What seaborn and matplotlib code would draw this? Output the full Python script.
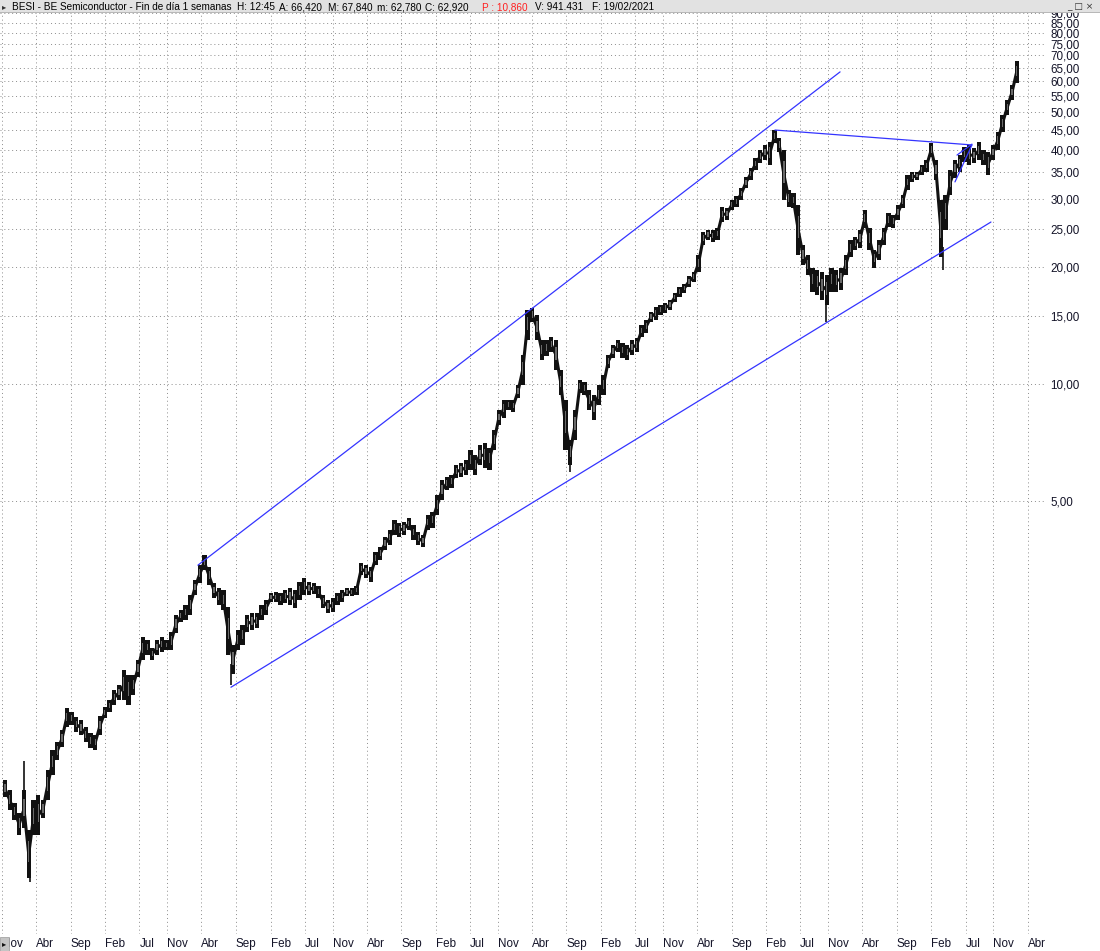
import numpy as np
import pandas as pd
import matplotlib
matplotlib.use("Agg")
import matplotlib.pyplot as plt
import matplotlib.dates as mdates
import matplotlib.ticker as mticker
from matplotlib.patches import Rectangle
import seaborn as sns

sns.set_theme(style="white")
plt.rcParams['font.family'] = ['Liberation Sans', 'DejaVu Sans']

# ---------------- data (3-week buckets) ----------------
start_date = "2008-11-14"
step_days = 21

high = [
    0.957, 0.903, 0.836, 0.787, 0.903, 0.712, 0.851, 0.876, 0.851, 1.016,
    1.144, 1.199, 1.288, 1.467, 1.433, 1.391, 1.366, 1.311, 1.265, 1.250,
    1.399, 1.476, 1.538, 1.632, 1.681, 1.837, 1.784, 1.784, 1.949, 2.233,
    2.194, 2.093, 2.194, 2.233, 2.194, 2.300, 2.545, 2.621, 2.700, 2.865,
    3.131, 3.422, 3.631, 3.382, 3.076, 2.986, 2.951, 2.668, 2.130, 2.328,
    2.398, 2.545, 2.575, 2.575, 2.700, 2.781, 2.899, 2.916, 2.899, 2.951,
    2.986, 2.951, 3.094, 3.168, 3.094, 3.076, 3.022, 2.865, 2.781, 2.814,
    2.899, 2.951, 2.986, 2.986, 3.022, 3.463, 3.422, 3.382, 3.696, 3.808,
    4.039, 4.211, 4.467, 4.389, 4.415, 4.521, 4.337, 4.161, 4.088, 4.602,
    4.684, 5.181, 5.662, 5.764, 5.833, 6.189, 6.263, 6.374, 6.764, 6.566,
    6.967, 7.050, 6.845, 7.615, 8.573, 9.095, 9.095, 9.095, 9.942, 11.88,
    15.51, 15.70, 15.06, 12.98, 12.98, 13.21, 12.98, 10.87, 9.095, 7.176,
    8.573, 10.24, 10.12, 9.652, 9.370, 9.942, 10.55, 11.88, 12.60, 12.98,
    12.75, 12.60, 12.98, 13.13, 14.19, 14.61, 15.33, 15.79, 15.98, 16.17,
    16.45, 17.15, 17.77, 18.09, 18.97, 19.42, 21.48, 24.62, 24.91, 24.91,
    25.20, 28.54, 28.37, 29.75, 30.47, 31.95, 34.09, 35.97, 38.15, 40.01,
    41.21, 41.94, 45.04, 42.95, 40.01, 31.57, 31.02, 28.88, 22.79, 21.48,
    19.88, 19.65, 19.42, 19.08, 19.88, 19.65, 19.88, 21.48, 23.47, 23.89,
    24.91, 28.04, 25.20, 22.13, 23.47, 25.20, 27.55, 27.22, 28.88, 30.65,
    34.50, 35.12, 35.12, 36.61, 37.70, 41.70, 37.70, 29.75, 30.65, 35.54,
    37.70, 38.84, 40.72, 41.21, 40.49, 41.94, 40.01, 39.54, 41.21, 44.50,
    49.22, 53.79, 58.80, 67.84,
]

low = [
    0.866, 0.802, 0.755, 0.691, 0.720, 0.536, 0.691, 0.691, 0.764, 0.851,
    0.986, 1.078, 1.164, 1.311, 1.326, 1.273, 1.250, 1.199, 1.157, 1.144,
    1.250, 1.382, 1.433, 1.493, 1.538, 1.538, 1.493, 1.584, 1.763, 1.949,
    2.008, 1.949, 2.008, 2.044, 2.068, 2.068, 2.287, 2.441, 2.470, 2.545,
    2.865, 3.076, 3.322, 3.040, 2.814, 2.700, 2.621, 2.008, 1.800, 2.068,
    2.130, 2.300, 2.328, 2.355, 2.470, 2.545, 2.748, 2.748, 2.700, 2.732,
    2.700, 2.652, 2.781, 2.865, 2.865, 2.882, 2.814, 2.652, 2.575, 2.590,
    2.700, 2.748, 2.848, 2.848, 2.865, 3.225, 3.168, 3.094, 3.422, 3.525,
    3.741, 3.853, 4.088, 4.039, 4.088, 4.211, 3.968, 3.853, 3.808, 4.211,
    4.261, 4.602, 5.029, 5.337, 5.401, 5.730, 5.764, 5.833, 6.008, 5.833,
    6.189, 6.080, 6.008, 6.764, 7.844, 8.176, 8.573, 8.470, 9.204, 9.942,
    12.98, 14.44, 12.98, 11.53, 11.81, 12.10, 10.87, 9.370, 6.764, 6.189,
    7.176, 9.480, 9.370, 8.573, 8.079, 8.831, 9.370, 11.00, 11.67, 12.10,
    11.67, 11.53, 11.88, 12.10, 13.21, 13.53, 14.44, 14.61, 15.06, 15.24,
    15.51, 16.26, 16.75, 17.15, 17.77, 18.30, 19.42, 22.79, 23.47, 23.19,
    23.47, 26.11, 26.42, 28.04, 28.54, 29.75, 31.95, 33.49, 35.54, 37.04,
    37.70, 36.61, 41.70, 39.54, 29.75, 28.54, 28.37, 21.48, 20.24, 19.08,
    17.25, 16.95, 16.45, 15.98, 17.25, 17.25, 17.46, 19.08, 21.22, 22.13,
    22.39, 25.20, 22.13, 19.88, 20.85, 22.79, 25.35, 25.20, 26.42, 28.37,
    31.57, 33.10, 33.49, 34.50, 35.12, 38.38, 33.49, 21.22, 24.91, 30.65,
    33.90, 35.12, 37.26, 36.61, 37.04, 37.70, 36.61, 34.50, 37.70, 40.01,
    44.50, 49.22, 53.79, 59.50,
]

# thin wicks (extreme weekly highs/lows)
spike_dates = ["2009-02-06", "2009-03-03", "2011-08-10", "2015-09-17", "2018-10-23", "2020-03-22"]
spike_low = [0.90, 0.525, 1.68, 5.94, 14.44, 19.65]
spike_high = [1.07, 0.62, 1.90, 6.40, 16.50, 22.50]

# trend lines
upper_channel_dates = ["2011-03-17", "2018-12-24"]
upper_channel_prices = [3.42, 63.5]
lower_channel_dates = ["2011-08-10", "2020-10-21"]
lower_channel_prices = [1.66, 26.1]
resistance_dates = ["2018-03-11", "2020-07-29"]
resistance_prices = [45.0, 41.2]
wedge_top_dates = ["2020-05-24", "2020-07-29"]
wedge_top_prices = [38.8, 41.4]
wedge_bot_dates = ["2020-05-15", "2020-07-29"]
wedge_bot_prices = [33.1, 41.2]

y_ticks = [5, 10, 15, 20, 25, 30, 35, 40, 45, 50, 55, 60, 65, 70, 75, 80, 85, 90]
month_names = {2: "Feb", 4: "Abr", 7: "Jul", 9: "Sep", 11: "Nov"}

header_parts = [
    ("BESI - BE Semiconductor - Fin de día 1 semanas", 12, "#000000"),
    ("H: 12:45", 237, "#000000"),
    ("A: 66,420", 279, "#000000"),
    ("M: 67,840", 328, "#000000"),
    ("m: 62,780", 377, "#000000"),
    ("C: 62,920", 425, "#000000"),
    ("P : 10,860", 482, "#ff2020"),
    ("V: 941.431", 535, "#000000"),
    ("F: 19/02/2021", 592, "#000000"),
]

# ---------------- figure ----------------
W, H = 1100, 951
fig = plt.figure(figsize=(W / 100, H / 100), dpi=100)
fig.patch.set_facecolor("white")
ax_left, ax_right, ax_top, ax_bot = 0, 1045, 13, 934
ax = fig.add_axes([ax_left / W, 1 - ax_bot / H, (ax_right - ax_left) / W, (ax_bot - ax_top) / H])
ax.set_facecolor("white")
ax.set_yscale("log")

dates = pd.date_range(start_date, periods=len(high), freq=f"{step_days}D")
xs = mdates.date2num(dates.to_pydatetime())
hi = np.array(high)
lo = np.array(low)

# connecting path through bucket mid prices, then the high-low bodies
mid = np.sqrt(hi * lo)
sns.lineplot(x=xs, y=mid, ax=ax, color="#111111", linewidth=2.2, zorder=3, sort=False)
ax.bar(xs, hi - lo, bottom=lo, width=step_days * 0.9, color="#111111", linewidth=0, zorder=3)
ax.bar(xs, (hi - lo) * 0.45, bottom=lo + (hi - lo) * 0.3, width=step_days * 0.3,
       color="#6a6a6a", linewidth=0, zorder=3.5)

sx = mdates.date2num(pd.to_datetime(spike_dates).to_pydatetime())
ax.vlines(sx, spike_low, spike_high, color="#111111", linewidth=1.2, zorder=3)

line_color = "#3434ff"
for d, p in [(upper_channel_dates, upper_channel_prices),
             (lower_channel_dates, lower_channel_prices),
             (resistance_dates, resistance_prices),
             (wedge_top_dates, wedge_top_prices),
             (wedge_bot_dates, wedge_bot_prices)]:
    df = pd.DataFrame({"x": mdates.date2num(pd.to_datetime(d).to_pydatetime()), "y": p})
    sns.lineplot(data=df, x="x", y="y", ax=ax, color=line_color, linewidth=0.9, zorder=4)

ax.set_xlabel("")
ax.set_ylabel("")

x0 = mdates.date2num(pd.Timestamp("2008-10-23").to_pydatetime())
x1 = mdates.date2num(pd.Timestamp("2021-06-17").to_pydatetime())
ax.set_xlim(x0, x1)
ax.set_ylim(0.385, 90)

# x ticks: Nov, Abr, Sep, Feb, Jul cycle
tick_pos, tick_lab = [], []
for y0 in range(2008, 2022, 2):
    for (yy, mm) in [(y0, 11), (y0 + 1, 4), (y0 + 1, 9), (y0 + 2, 2), (y0 + 2, 7)]:
        t = mdates.date2num(pd.Timestamp(year=yy, month=mm, day=1).to_pydatetime())
        if x0 - 20 <= t <= x1:
            tick_pos.append(t)
            tick_lab.append(month_names[mm])
ax.set_xticks(tick_pos)
ax.set_xticklabels(tick_lab)
ax.xaxis.set_minor_locator(mticker.NullLocator())
for lab in ax.get_xticklabels():
    lab.set_horizontalalignment("left")
ax.tick_params(axis="x", length=0, pad=3, labelsize=8.4, colors="#141428")

ax.yaxis.tick_right()
ax.yaxis.set_major_locator(mticker.FixedLocator(y_ticks))
ax.yaxis.set_minor_locator(mticker.NullLocator())
ax.yaxis.set_major_formatter(mticker.FuncFormatter(lambda v, p: f"{v:.2f}".replace(".", ",")))
ax.tick_params(axis="y", length=0, pad=4, labelsize=8.4, colors="#141428")

for s in ax.spines.values():
    s.set_visible(False)
ax.grid(True, axis="both", color="#8c8c8c", linestyle=(0, (1, 3)), linewidth=0.7)
ax.set_axisbelow(True)

# header bar
fig.add_artist(Rectangle((0, 1 - 13 / H), 1, 13 / H, transform=fig.transFigure,
                         facecolor="#e2e2e2", edgecolor="none", zorder=10))
fig.add_artist(Rectangle((0, 1 - 13 / H), 1, 0.6 / H, transform=fig.transFigure,
                         facecolor="#b8b8b8", edgecolor="none", zorder=10))
fig.text(2 / W, 1 - 6.5 / H, "▸", fontsize=6, va="center", ha="left", color="#333333",
         family=["DejaVu Sans"], zorder=11)
for txt, xp, col in header_parts:
    fig.text(xp / W, 1 - 7 / H, txt, fontsize=7.2, va="center", ha="left", color=col, zorder=11)
fig.text(1093 / W, 1 - 6.5 / H, "_ □ ×", fontsize=6.5, va="center", ha="right", color="#333333",
         family=["DejaVu Sans"], zorder=11)

# bottom-left small scroll box
fig.add_artist(Rectangle((0, 0), 9 / W, 14 / H, transform=fig.transFigure,
                         facecolor="#c4c4c4", edgecolor="#9a9a9a", linewidth=0.5, zorder=10))
fig.text(1.5 / W, 7 / H, "▸", fontsize=6, va="center", ha="left", color="#111111",
         family=["DejaVu Sans"], zorder=11)

fig.savefig("out.png", dpi=100)
